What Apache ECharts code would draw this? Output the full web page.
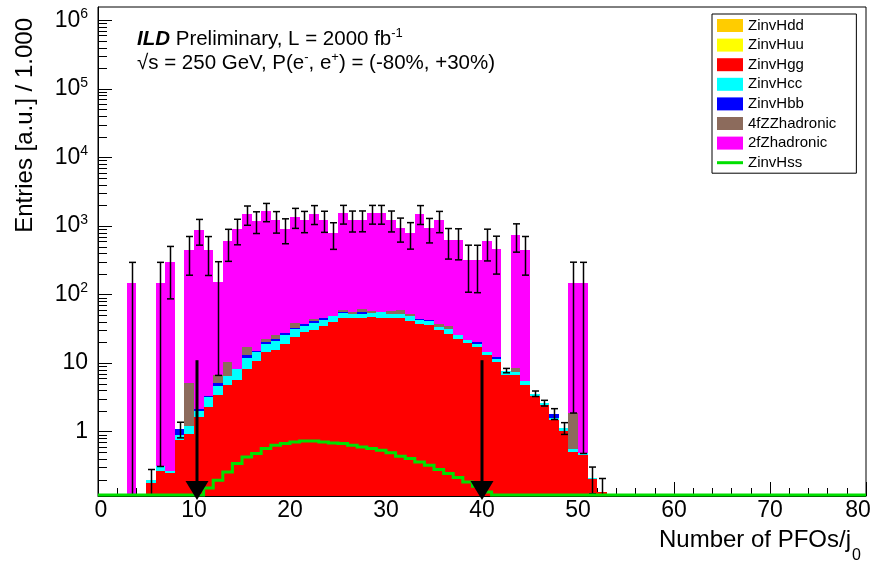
<!DOCTYPE html>
<html>
<head>
<meta charset="utf-8">
<script src="https://cdn.jsdelivr.net/npm/echarts@6/dist/echarts.min.js"></script>
<style>html,body{margin:0;padding:0;background:#fff}#c{width:875px;height:564px}</style>
</head>
<body>
<div id="c"></div>
<script>
// ---------------- data (bin lower edges, bin width 1) ----------------
const bins = [3,4,5,6,7,8,9,10,11,12,13,14,15,16,17,18,19,20,21,22,23,24,25,26,27,28,29,30,31,32,33,34,35,36,37,38,39,40,41,42,43,44,45,46,47,48,49,50,51,52];
const zinvHgg = [0,0,0.175,0.27,0.245,0.76,0.91,1.63,2.28,3.38,4.73,5.73,8.28,10.7,14.5,15.3,19.2,23.9,28.3,30.7,34.3,39.6,45.3,45.3,45.5,46.4,45.3,45.3,45,41,37.5,35.5,30,26.8,22.7,19.6,17.1,12.9,10.3,6.78,6.6,4.73,3.3,2.42,1.5,1.02,0.505,0.45,0.206,0.132];
const zinvHcc = [0,0,0.025,0.04,0.02,0.12,0.28,0.37,0.91,1.19,1.73,2.55,3.52,3.8,4.2,5.6,6.1,7.8,6.3,8.1,8.6,9.5,8.3,7.2,7.0,7.9,9.6,7.2,6.3,7,4.5,5.5,3.5,4.2,3.2,2.3,2.1,1.6,1.3,1.0,0.8,0.68,0.28,0.19,0.1,0.11,0.06,0.03,0.008,0];
const zinvHbb = [0,0,0,0,0,0.21,0,0.16,0.1,0.53,0,0,1.1,0.3,1.5,1.8,2.4,1.1,2.0,1.7,3.0,0,1.6,0,2.7,0,0,0,0,0,2.4,2,0,0,0,0,1.0,0,0.7,0,0,0,0,0,0.23,0,0,0,0,0];
const zz4fHadronic = [0,0,0,0,0,0,3.9,0,0,1.5,3.84,0,4.2,0,2.5,2.6,0,6.0,0,2.9,0,0,3.4,2.7,5.5,2.6,0,4.5,7.3,4.5,0,0,3.1,3.3,0,0,0,0,0,0,1.05,0,0,0,0,0,1.3,0,0,0];
const z2fHadronic = [147,0,0,147,294,0,441,882,441,147,588,882,1470,1176,1617,1176,882,1323,1176,1470,1176,735,1470,1176,1176,1470,1470,1176,882,735,1470,882,1176,588,588,294,294,588,441,0,735,441,0,0,0,0,147,147,0,0];
const totalErrors = [147,0,0.08,147,208,0.28,255,360,255,147,294,360,465,416,488,416,360,441,416,465,416,329,465,416,416,465,465,416,360,329,465,360,416,294,294,208,208,294,255,0.57,329,255,0.33,0.25,0.33,0.22,147,147,0.09,0.075];
const zinvHss = [0,0,0,0,0,0,0,0,0.15,0.195,0.258,0.342,0.426,0.478,0.565,0.63,0.668,0.706,0.73,0.73,0.706,0.68,0.668,0.63,0.597,0.565,0.534,0.49,0.437,0.404,0.36,0.323,0.279,0.244,0.214,0.184,0.16,0.132,0,0,0,0,0,0,0,0,0,0,0,0];
const cutValues = [10.3, 40];
const arrowTopValue = 11;

// ---------------- axis ranges / style ----------------
const Y_MIN = 0.115, Y_MAX = 1.56e6, X_MIN = 0, X_MAX = 80, BIN_W = 1;
const FONT = '"Liberation Sans", Arial, Helvetica, sans-serif';

const components = [
  {name: 'ZinvHgg', color: '#ff0000', values: zinvHgg},
  {name: 'ZinvHcc', color: '#00ffff', values: zinvHcc},
  {name: 'ZinvHbb', color: '#0000ff', values: zinvHbb},
  {name: '4fZZhadronic', color: '#8c6b5c', values: zz4fHadronic},
  {name: '2fZhadronic', color: '#ff00ff', values: z2fHadronic}
];

function renderBar(params, api) {
  const x0 = api.value(0), lo = api.value(1), hi = api.value(2);
  if (hi <= Y_MIN) return null;
  const pTop = api.coord([x0, Math.min(hi, Y_MAX)]);
  const pBot = api.coord([x0 + BIN_W, Math.max(lo, Y_MIN)]);
  const xl = Math.round(pTop[0]), xr = Math.round(pBot[0]);
  const yt = Math.round(pTop[1]), yb = Math.round(pBot[1]);
  if (yb - yt <= 0) return null;
  return {type: 'rect', shape: {x: xl, y: yt, width: xr - xl, height: yb - yt},
          style: {fill: api.visual('color')}};
}

const cum = bins.map(() => 0);
const stackSeries = components.map((c, k) => {
  const data = [];
  c.values.forEach((v, i) => {
    const lo = cum[i];
    cum[i] += v;
    if (v > 0) data.push([bins[i], lo, cum[i]]);
  });
  return {type: 'custom', name: c.name, renderItem: renderBar, data: data,
          encode: {x: 0, y: 2}, itemStyle: {color: c.color}, clip: true, z: 2 + k * 0.01, silent: true};
});
const totals = cum;

const errData = [];
bins.forEach((b, i) => {
  if (totalErrors[i] > 0) errData.push([b + BIN_W / 2, totals[i] - totalErrors[i], totals[i] + totalErrors[i]]);
});

function renderErr(params, api) {
  const x = api.value(0), lo = api.value(1), hi = api.value(2);
  const top = api.coord([x, Math.min(hi, Y_MAX)]);
  const bot = api.coord([x, Math.max(lo, Y_MIN)]);
  const px = Math.round(top[0]) + 0.5;
  const st = {stroke: '#000', lineWidth: 1.5};
  const ch = [
    {type: 'line', shape: {x1: px, y1: top[1], x2: px, y2: bot[1]}, style: st},
    {type: 'line', shape: {x1: px - 3.5, y1: top[1], x2: px + 3.5, y2: top[1]}, style: st}
  ];
  if (lo > Y_MIN) ch.push({type: 'line', shape: {x1: px - 3.5, y1: bot[1], x2: px + 3.5, y2: bot[1]}, style: st});
  return {type: 'group', children: ch};
}

function renderHss(params, api) {
  if (params.dataIndex !== 0) return null;
  const bottom = api.coord([X_MIN, Y_MIN])[1] - 1;
  const yOf = v => v > Y_MIN ? api.coord([X_MIN, v])[1] : bottom;
  const pts = [[api.coord([X_MIN, Y_MIN])[0], bottom]];
  let prevY = bottom;
  bins.forEach((b, i) => {
    const y = yOf(zinvHss[i]);
    const xl = api.coord([b, Y_MIN])[0], xr = api.coord([b + BIN_W, Y_MIN])[0];
    pts.push([xl, prevY], [xl, y], [xr, y]);
    prevY = y;
  });
  const xLast = api.coord([bins[bins.length - 1] + BIN_W, Y_MIN])[0];
  pts.push([xLast, bottom], [api.coord([X_MAX, Y_MIN])[0], bottom]);
  return {type: 'polyline', shape: {points: pts},
          style: {stroke: api.visual('color'), lineWidth: 3, fill: null, lineJoin: 'miter'}};
}

function renderArrow(params, api) {
  const x = api.value(0), v = api.value(1);
  const p = api.coord([x, v]);
  const b = api.coord([x, Y_MIN]);
  const px = Math.round(p[0]);
  const tipY = b[1] + 4, baseY = tipY - 19;
  return {type: 'group', children: [
    {type: 'line', shape: {x1: px, y1: p[1], x2: px, y2: baseY + 1}, style: {stroke: '#000', lineWidth: 3}},
    {type: 'polygon', shape: {points: [[px - 11.5, baseY], [px + 11.5, baseY], [px, tipY]]}, style: {fill: '#000'}}
  ]};
}

const minorMultipliers = [2, 3, 4, 5, 6, 7, 8, 9];
const decades = [-1, 0, 1, 2, 3, 4, 5, 6];
const minorTicks = [];
decades.forEach(d => minorMultipliers.forEach(m => {
  const v = m * Math.pow(10, d);
  if (v > Y_MIN && v < Y_MAX) minorTicks.push([X_MIN, v]);
}));
function renderMinor(params, api) {
  const p = api.coord([api.value(0), api.value(1)]);
  const y = Math.round(p[1]) + 0.5;
  return {type: 'line', shape: {x1: p[0], y1: y, x2: p[0] + 9, y2: y}, style: {stroke: '#000', lineWidth: 1}};
}

function yLabel(v) {
  const lg = Math.log10(v);
  const e = Math.round(lg);
  if (Math.abs(lg - e) > 1e-6) return '';
  if (e === 0) return '1';
  if (e === 1) return '10';
  return '{b|10}{s|' + e + '}';
}
function xLabel(v) {
  if (v === X_MIN) return '{first|' + v + '}';
  if (v === X_MAX) return '{last|' + v + '}';
  return String(v);
}

const series = [
  {type: 'custom', name: 'ZinvHdd', data: [], renderItem: renderBar, itemStyle: {color: '#ffcc00'}},
  {type: 'custom', name: 'ZinvHuu', data: [], renderItem: renderBar, itemStyle: {color: '#ffff00'}}
].concat(stackSeries).concat([
  {type: 'custom', name: 'errors', data: errData, renderItem: renderErr, encode: {x: 0, y: 2}, clip: false, z: 5, silent: true},
  {type: 'custom', name: 'ZinvHss', data: bins.map((b, i) => [b + BIN_W / 2, zinvHss[i]]).filter(d => d[1] > 0),
   renderItem: renderHss, encode: {x: 0, y: 1}, itemStyle: {color: '#00e000'}, clip: false, z: 6, silent: true},
  {type: 'custom', name: 'cuts', data: cutValues.map(x => [x, arrowTopValue]), renderItem: renderArrow,
   encode: {x: 0, y: 1}, clip: false, z: 7, silent: true},
  {type: 'custom', name: 'minorTicks', data: minorTicks, renderItem: renderMinor, encode: {x: 0, y: 1}, clip: false, z: 8, silent: true}
]);

const chart = echarts.init(document.getElementById('c'), null, {renderer: 'canvas'});
chart.setOption({
  animation: false,
  backgroundColor: '#fff',
  grid: {left: 98, right: 9, top: 7, bottom: 68, show: true, borderColor: '#000', borderWidth: 1,
         backgroundColor: 'transparent', containLabel: false, outerBoundsMode: 'none'},
  xAxis: {
    type: 'value', min: X_MIN, max: X_MAX, interval: 10,
    axisLine: {show: true, lineStyle: {color: '#000', width: 1}},
    axisTick: {show: true, inside: true, length: 14, lineStyle: {color: '#000', width: 1}},
    minorTick: {show: true, splitNumber: 5, length: 8, lineStyle: {color: '#000', width: 1}},
    splitLine: {show: false}, minorSplitLine: {show: false},
    axisLabel: {fontFamily: FONT, fontSize: 23, color: '#000', margin: 3, formatter: xLabel,
      rich: {
        first: {fontFamily: FONT, fontSize: 23, color: '#000', padding: [0, 0, 0, 6]},
        last: {fontFamily: FONT, fontSize: 23, color: '#000', padding: [0, 16, 0, 0]}
      }}
  },
  yAxis: {
    type: 'log', logBase: 10, min: Y_MIN, max: Y_MAX,
    axisLine: {show: true, lineStyle: {color: '#000', width: 1}},
    axisTick: {show: true, inside: true, length: 14, lineStyle: {color: '#000', width: 1}},
    minorTick: {show: false}, splitLine: {show: false},
    axisLabel: {
      fontFamily: FONT, fontSize: 23, color: '#000', margin: 10,
      showMinLabel: false, showMaxLabel: false, formatter: yLabel,
      rich: {
        b: {fontFamily: FONT, fontSize: 23, color: '#000', lineHeight: 26},
        s: {fontFamily: FONT, fontSize: 14, color: '#000', lineHeight: 14, verticalAlign: 'top'}
      }
    }
  },
  legend: {
    orient: 'vertical', left: 712, top: 14, padding: [4, 20, 3, 5],
    itemWidth: 26, itemHeight: 13, itemGap: 4.6, icon: 'rect',
    backgroundColor: '#fff', borderColor: '#000', borderWidth: 1, borderRadius: 0,
    selectedMode: false,
    textStyle: {fontFamily: FONT, fontSize: 15, color: '#000', lineHeight: 13},
    data: ['ZinvHdd', 'ZinvHuu', 'ZinvHgg', 'ZinvHcc', 'ZinvHbb', '4fZZhadronic', '2fZhadronic',
           {name: 'ZinvHss', icon: 'path://M0,0L26,0L26,3L0,3Z'}]
  },
  graphic: [
    {type: 'text', x: 137, y: 39, z: 100, style: {
      text: '{bi|ILD}{n| Preliminary, L = 2000 fb}{sup|-1}',
      fill: '#000', align: 'left', verticalAlign: 'middle', fontFamily: FONT, fontSize: 20.5,
      rich: {
        bi: {fontFamily: FONT, fontSize: 20.5, fontWeight: 'bold', fontStyle: 'italic', lineHeight: 24, fill: '#000'},
        n: {fontFamily: FONT, fontSize: 20.5, lineHeight: 24, fill: '#000'},
        sup: {fontFamily: FONT, fontSize: 13, lineHeight: 13, verticalAlign: 'top', fill: '#000'}
      }}},
    {type: 'text', x: 137, y: 63, z: 100, style: {
      text: '{n|√s = 250 GeV, P(e}{sup|-}{n|, e}{sup|+}{n|) = (-80%, +30%)}',
      fill: '#000', align: 'left', verticalAlign: 'middle', fontFamily: FONT, fontSize: 20.5,
      rich: {
        n: {fontFamily: FONT, fontSize: 20.5, lineHeight: 24, fill: '#000'},
        sup: {fontFamily: FONT, fontSize: 13, lineHeight: 13, verticalAlign: 'top', fill: '#000'}
      }}},
    {type: 'text', x: 25, y: 18, rotation: Math.PI / 2, z: 100, style: {
      text: 'Entries [a.u.] / 1.000', fill: '#000', align: 'right', verticalAlign: 'middle',
      fontFamily: FONT, fontSize: 24}},
    {type: 'text', x: 851, y: 540, z: 100, style: {
      text: 'Number of PFOs/j', fill: '#000', align: 'right', verticalAlign: 'middle',
      fontFamily: FONT, fontSize: 24}},
    {type: 'text', x: 852, y: 556, z: 100, style: {
      text: '0', fill: '#000', align: 'left', verticalAlign: 'middle',
      fontFamily: FONT, fontSize: 16}}
  ],
  series: series
});
</script>
</body>
</html>
